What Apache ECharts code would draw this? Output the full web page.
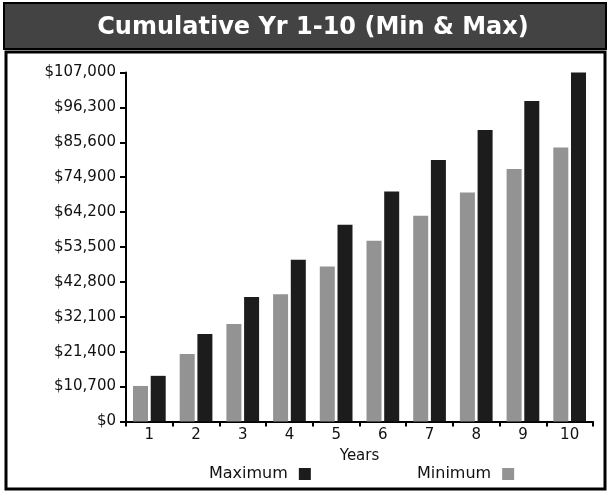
<!DOCTYPE html>
<html>
<head>
<meta charset="utf-8">
<script src="https://cdn.jsdelivr.net/npm/echarts@6/dist/echarts.min.js"></script>
<style>
html,body{margin:0;padding:0;background:#fff;}
#c{width:610px;height:494px;}
</style>
</head>
<body>
<div id="c"></div>
<script>
const titleText = 'Cumulative Yr 1-10 (Min & Max)';
const years = ['1','2','3','4','5','6','7','8','9','10'];
const minimumValues = [10900, 20700, 29900, 39000, 47500, 55400, 63100, 70200, 77400, 84000];
const maximumValues = [14000, 26800, 38200, 49600, 60300, 70500, 80200, 89400, 98300, 107000];
const yTickStep = 10700;
const yMax = 107000;

const font = 'DejaVu Sans';
const chart = echarts.init(document.getElementById('c'));
chart.setOption({
  animation: false,
  backgroundColor: '#fff',
  graphic: [
    { type: 'rect', shape: { x: 4, y: 3, width: 602, height: 46 }, style: { fill: '#434343', stroke: '#000', lineWidth: 2 }, z: -1 },
    { type: 'rect', shape: { x: 6, y: 52, width: 599, height: 437 }, style: { fill: 'none', stroke: '#000', lineWidth: 3 }, z: -1 }
  ],
  title: {
    text: titleText,
    left: 308, top: 11, textAlign: 'center',
    textStyle: { color: '#fff', fontFamily: font, fontWeight: 'bold', fontSize: 24 }
  },
  legend: [
    { data: ['Maximum'], left: 209, top: 466, align: 'right', itemWidth: 12, itemHeight: 12, icon: 'rect', padding: 0,
      textStyle: { fontFamily: font, fontSize: 16, color: '#111', padding: [0, 6, 0, 0] } },
    { data: ['Minimum'], left: 417, top: 466, align: 'right', itemWidth: 12, itemHeight: 12, icon: 'rect', padding: 0,
      textStyle: { fontFamily: font, fontSize: 16, color: '#111', padding: [0, 6, 0, 0] } }
  ],
  grid: { left: 126, right: 17, top: 72.5, bottom: 72.5, containLabel: false },
  xAxis: {
    type: 'category', data: years,
    name: 'Years', nameLocation: 'middle', nameGap: 27,
    nameTextStyle: { fontFamily: font, fontSize: 15, color: '#111' },
    axisLine: { lineStyle: { color: '#000', width: 2 } },
    axisTick: { show: true, length: 5, lineStyle: { color: '#000', width: 2 } },
    axisLabel: { fontFamily: font, fontSize: 15, color: '#111', margin: 6 }
  },
  yAxis: {
    type: 'value', min: 0, max: yMax, interval: yTickStep,
    axisLine: { show: true, lineStyle: { color: '#000', width: 2 } },
    axisTick: { show: true, length: 6, lineStyle: { color: '#000', width: 2 } },
    splitLine: { show: false },
    axisLabel: {
      fontFamily: font, fontSize: 15, color: '#111', margin: 10,
      formatter: v => '$' + Math.round(v).toLocaleString('en-US')
    }
  },
  series: [
    { name: 'Minimum', type: 'bar', data: minimumValues, barWidth: 15, barGap: '18%',
      itemStyle: { color: '#939393' } },
    { name: 'Maximum', type: 'bar', data: maximumValues, barWidth: 15, barGap: '18%',
      itemStyle: { color: '#1c1c1c' } }
  ]
});
</script>
</body>
</html>
